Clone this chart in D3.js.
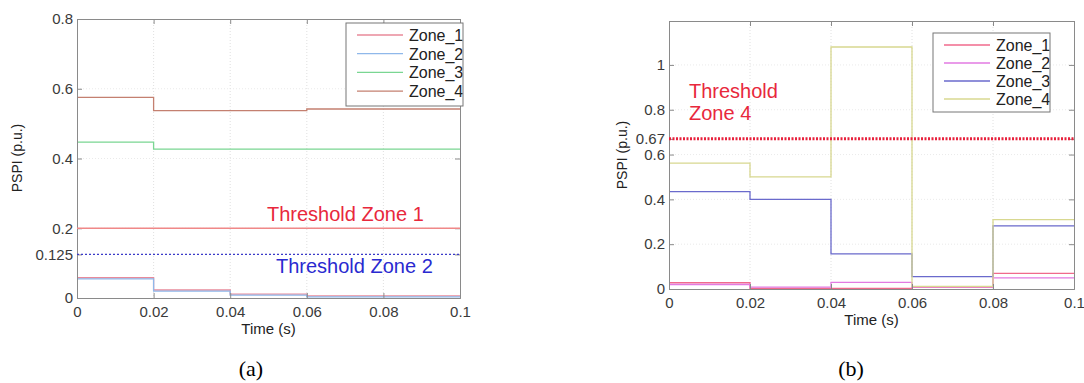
<!DOCTYPE html>
<html>
<head>
<meta charset="utf-8">
<script src="https://cdn.jsdelivr.net/npm/d3@7"></script>
<style>
  body { margin: 0; background: #fff; }
  svg { font-family: "Liberation Sans", Arial, sans-serif; }
</style>
</head>
<body>
<svg id="chart" width="1084" height="383"></svg>
<script>
// step start times (s), same for both panels
var times = [0, 0.02, 0.04, 0.06, 0.08, 0.1];
var zoneNames = ["Zone_1", "Zone_2", "Zone_3", "Zone_4"];

// panel (a) values per step
var aZone1 = [0.058, 0.023, 0.011, 0.006, 0.006];
var aZone2 = [0.055, 0.020, 0.008, 0.003, 0.003];
var aZone3 = [0.447, 0.427, 0.427, 0.427, 0.427];
var aZone4 = [0.575, 0.537, 0.537, 0.542, 0.542];
var aColors = ["#e88a9a", "#8fb8ea", "#7ad692", "#c48070"];
var aYTicks = [0, 0.125, 0.2, 0.4, 0.6, 0.8];
var aThresholds = [0.2, 0.125];

// panel (b) values per step
var bZone1 = [0.028, 0.003, 0.003, 0.008, 0.07];
var bZone2 = [0.02, 0.008, 0.03, 0.01, 0.05];
var bZone3 = [0.435, 0.4, 0.157, 0.055, 0.282];
var bZone4 = [0.562, 0.5, 1.08, 0.012, 0.31];
var bColors = ["#f06a8c", "#e27ae2", "#6a6acc", "#d8d890"];
var bYTicks = [0, 0.2, 0.4, 0.6, 0.67, 0.8, 1];
var bThreshold = 0.67;

var xTicks = [0, 0.02, 0.04, 0.06, 0.08, 0.1];
var svg = d3.select("#chart");
var defs = svg.append("defs");

function drawPanel(opt) {
  var x = d3.scaleLinear().domain([0, 0.1]).range([opt.left, opt.right]);
  var y = d3.scaleLinear().domain([0, opt.ymax]).range([opt.bottom, opt.top]);
  var g = svg.append("g");

  // grid
  g.selectAll(".vgrid").data(xTicks.slice(1, -1)).enter().append("line")
    .attr("x1", d => x(d)).attr("x2", d => x(d))
    .attr("y1", opt.top).attr("y2", opt.bottom)
    .attr("stroke", "#d8d8d8").attr("stroke-width", 0.8).attr("stroke-dasharray", "1,2");
  g.selectAll(".hgrid").data(opt.grid).enter().append("line")
    .attr("x1", opt.left).attr("x2", opt.right)
    .attr("y1", d => y(d)).attr("y2", d => y(d))
    .attr("stroke", "#e4e4e4").attr("stroke-width", 0.8).attr("stroke-dasharray", "1,2");

  // step lines
  var line = d3.line()
    .x(d => x(d[0])).y(d => y(d[1]))
    .curve(d3.curveStepAfter);
  opt.series.forEach(function (vals, i) {
    var pts = times.map((t, k) => [t, vals[Math.min(k, vals.length - 1)]]);
    g.append("path").datum(pts)
      .attr("fill", "none").attr("stroke", opt.colors[i]).attr("stroke-width", 1.3)
      .attr("d", line);
  });

  // axes (ticks inside, box like matlab)
  var axL = d3.axisLeft(y).tickValues(opt.yticks).tickSize(-5).tickPadding(4).tickFormat(d => String(d));
  var axB = d3.axisBottom(x).tickValues(xTicks).tickSize(-5).tickPadding(8).tickFormat(d => String(+d.toFixed(2)));
  var axR = d3.axisRight(y).tickValues(opt.yticks).tickSize(-5).tickFormat("");
  var axT = d3.axisTop(x).tickValues(xTicks).tickSize(-5).tickFormat("");
  g.append("g").attr("transform", "translate(" + opt.left + ",0)").call(axL);
  g.append("g").attr("transform", "translate(0," + opt.bottom + ")").call(axB);
  g.append("g").attr("transform", "translate(" + opt.right + ",0)").call(axR);
  g.append("g").attr("transform", "translate(0," + opt.top + ")").call(axT);
  g.selectAll(".domain").attr("stroke", "#8a8a8a");
  g.selectAll(".tick line").attr("stroke", "#8a8a8a");
  g.selectAll(".tick text").attr("fill", "#3a3a3a").style("font-size", "15px");

  // axis titles
  g.append("text")
    .attr("x", (opt.left + opt.right) / 2).attr("y", opt.bottom + opt.xlabelDy)
    .attr("text-anchor", "middle").attr("fill", "#222")
    .style("font-size", "15px").text("Time (s)");
  g.append("text")
    .attr("transform", "translate(" + opt.ylabelX + "," + opt.ylabelY + ") rotate(-90)")
    .attr("text-anchor", "middle").attr("fill", "#222")
    .style("font-size", "14px").text("PSPI (p.u.)");

  // legend, text clipped by its box
  var L = opt.legend;
  defs.append("clipPath").attr("id", L.id)
    .append("rect").attr("x", L.x).attr("y", L.y).attr("width", L.w).attr("height", L.h);
  var lg = g.append("g");
  lg.append("rect")
    .attr("x", L.x).attr("y", L.y).attr("width", L.w).attr("height", L.h)
    .attr("fill", "#fff");
  var inner = lg.append("g").attr("clip-path", "url(#" + L.id + ")");
  zoneNames.forEach(function (name, i) {
    var ly = L.y + 12 + i * L.step;
    inner.append("line")
      .attr("x1", L.x + 11).attr("x2", L.x + 57)
      .attr("y1", ly).attr("y2", ly)
      .attr("stroke", opt.colors[i]).attr("stroke-width", 1.3);
    inner.append("text")
      .attr("x", L.x + 63).attr("y", ly + 6)
      .attr("fill", "#222").style("font-size", "16px").text(name);
  });
  lg.append("rect")
    .attr("x", L.x).attr("y", L.y).attr("width", L.w).attr("height", L.h)
    .attr("fill", "none").attr("stroke", "#777").attr("stroke-width", 1);

  return { x: x, y: y, g: g };
}

// panel (a)
var pa = drawPanel({
  left: 77, right: 460, top: 19, bottom: 298, ymax: 0.8,
  yticks: aYTicks, grid: [0.2, 0.4, 0.6],
  series: [aZone1, aZone2, aZone3, aZone4], colors: aColors,
  xlabelDy: 36, ylabelX: 22, ylabelY: 158,
  legend: { id: "lgA", x: 346, y: 23, w: 117, h: 83, step: 18.7 }
});
pa.g.append("line")
  .attr("x1", pa.x(0)).attr("x2", pa.x(0.1))
  .attr("y1", pa.y(aThresholds[0])).attr("y2", pa.y(aThresholds[0]))
  .attr("stroke", "#f08888").attr("stroke-width", 1.6);
pa.g.append("line")
  .attr("x1", pa.x(0)).attr("x2", pa.x(0.1))
  .attr("y1", pa.y(aThresholds[1])).attr("y2", pa.y(aThresholds[1]))
  .attr("stroke", "#3a3ac8").attr("stroke-width", 1.3).attr("stroke-dasharray", "2,2");
pa.g.append("text").attr("x", 267).attr("y", 221)
  .attr("fill", "#e8283c").style("font-size", "20px").text("Threshold Zone 1");
pa.g.append("text").attr("x", 276).attr("y", 273)
  .attr("fill", "#2a2ad0").style("font-size", "20px").text("Threshold Zone 2");

// panel (b)
var pb = drawPanel({
  left: 669, right: 1074, top: 21, bottom: 289, ymax: 1.196,
  yticks: bYTicks, grid: [0.2, 0.4, 0.6, 0.8, 1],
  series: [bZone1, bZone2, bZone3, bZone4], colors: bColors,
  xlabelDy: 36, ylabelX: 627, ylabelY: 155,
  legend: { id: "lgB", x: 933, y: 33, w: 117, h: 79, step: 18 }
});
pb.g.append("line")
  .attr("x1", pb.x(0)).attr("x2", pb.x(0.1))
  .attr("y1", pb.y(bThreshold)).attr("y2", pb.y(bThreshold))
  .attr("stroke", "#e8203c").attr("stroke-width", 3).attr("stroke-dasharray", "2,1.5");
pb.g.append("text").attr("x", 689).attr("y", 98)
  .attr("fill", "#e8283c").style("font-size", "20px").text("Threshold");
pb.g.append("text").attr("x", 689).attr("y", 120)
  .attr("fill", "#e8283c").style("font-size", "20px").text("Zone 4");

// captions
svg.append("text").attr("x", 251).attr("y", 376).attr("text-anchor", "middle")
  .style("font-family", "'Liberation Serif', 'Times New Roman', serif").style("font-size", "22px").text("(a)");
svg.append("text").attr("x", 851).attr("y", 376).attr("text-anchor", "middle")
  .style("font-family", "'Liberation Serif', 'Times New Roman', serif").style("font-size", "22px").text("(b)");
</script>
</body>
</html>
